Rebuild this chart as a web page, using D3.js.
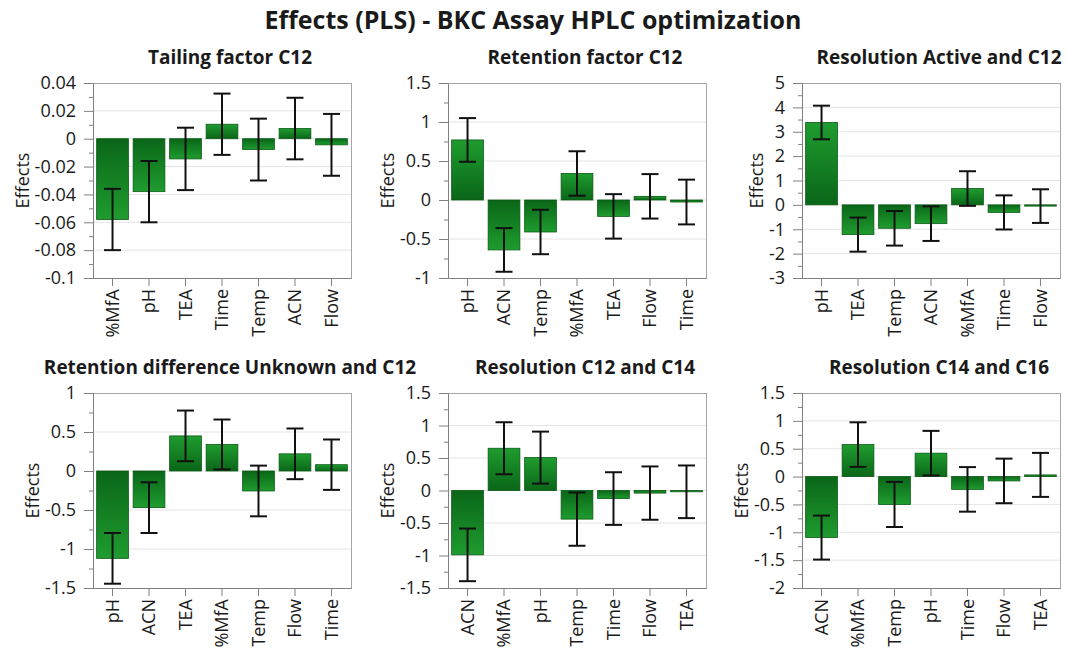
<!DOCTYPE html>
<html>
<head>
<meta charset="utf-8">
<script src="https://cdn.jsdelivr.net/npm/d3@7"></script>
<style>
    body{margin:0;background:#fff;}
    text{font-family:"Open Sans","DejaVu Sans",sans-serif;fill:#1a1a1a;}
    .title{font-size:25px;font-weight:bold;}
    .subtitle{font-size:19px;font-weight:bold;}
    .tick text{font-size:18px;}
    .ylabel{font-size:18px;}
    .grid line{stroke:#e4e4e4;}
    .axis path,.axis line{stroke:#808080;}
    .box{fill:none;stroke:#a6a6a6;}
    .err{stroke:#111;stroke-width:2;fill:none;}
</style>
</head>
<body>
<div id="chart"></div>
<script>
var mainTitle='Effects (PLS) - BKC Assay HPLC optimization';

var titles=['Tailing factor C12','Retention factor C12','Resolution Active and C12',
    'Retention difference Unknown and C12','Resolution C12 and C14','Resolution C14 and C16'];

var cats1=['%MfA','pH','TEA','Time','Temp','ACN','Flow'];
var vals1=[-0.058,-0.038,-0.0145,0.0104,-0.0078,0.0073,-0.0044];
var errs1=[0.022,0.022,0.0224,0.022,0.0222,0.0221,0.0222];

var cats2=['pH','ACN','Temp','%MfA','TEA','Flow','Time'];
var vals2=[0.77,-0.64,-0.41,0.34,-0.21,0.047,-0.026];
var errs2=[0.28,0.28,0.285,0.285,0.285,0.285,0.287];

var cats3=['pH','TEA','Temp','ACN','%MfA','Time','Flow'];
var vals3=[3.38,-1.22,-0.96,-0.77,0.67,-0.31,-0.05];
var errs3=[0.69,0.70,0.71,0.71,0.71,0.70,0.69];

var cats4=['pH','ACN','TEA','%MfA','Temp','Flow','Time'];
var vals4=[-1.12,-0.47,0.45,0.34,-0.256,0.22,0.081];
var errs4=[0.325,0.325,0.325,0.32,0.325,0.325,0.323];

var cats5=['ACN','%MfA','pH','Temp','Time','Flow','TEA'];
var vals5=[-0.99,0.65,0.506,-0.44,-0.124,-0.04,-0.02];
var errs5=[0.405,0.40,0.40,0.41,0.405,0.41,0.405];

var cats6=['ACN','%MfA','Temp','pH','Time','Flow','TEA'];
var vals6=[-1.095,0.574,-0.50,0.42,-0.23,-0.078,0.03];
var errs6=[0.395,0.40,0.405,0.40,0.40,0.40,0.395];

// y domains and tick steps (major), minor ticks at half step
var domains=[[-0.1,0.04],[-1,1.5],[-3,5],[-1.5,1],[-1.5,1.5],[-2,1.5]];
var steps=[0.02,0.5,1,0.5,0.5,0.5];

var panels=[
    {cats:cats1,vals:vals1,errs:errs1},
    {cats:cats2,vals:vals2,errs:errs2},
    {cats:cats3,vals:vals3,errs:errs3},
    {cats:cats4,vals:vals4,errs:errs4},
    {cats:cats5,vals:vals5,errs:errs5},
    {cats:cats6,vals:vals6,errs:errs6}
];

var svg_width=1066,
    svg_height=661,
    col_left=[93,448,802],
    row_top=[83,393],
    width=258,
    height=195;

var svg=d3.select('#chart')
    .append('svg')
    .attr('width',svg_width)
    .attr('height',svg_height);

// gradients: dark near zero, lighter at the end of the bar
var defs=svg.append('defs');
function grad(id,y1,y2){
    var g=defs.append('linearGradient').attr('id',id)
        .attr('x1',0).attr('x2',0).attr('y1',y1).attr('y2',y2);
    g.append('stop').attr('offset','0%').attr('stop-color','#0a6618');
    g.append('stop').attr('offset','100%').attr('stop-color','#1f9c2f');
}
grad('gpos',1,0);
grad('gneg',0,1);

svg.append('text')
    .attr('class','title')
    .attr('x',533)
    .attr('y',29)
    .attr('text-anchor','middle')
    .text(mainTitle);

function fmt(d){
    return (+d.toFixed(3))+'';
}

panels.forEach(function(p,i){
    var col=i%3,row=Math.floor(i/3);
    var dom=domains[i],step=steps[i];

    var chart=svg.append('g')
        .attr('transform','translate('+col_left[col]+','+row_top[row]+')');

    var data=p.cats.map(function(c,j){
        return {cat:c,value:p.vals[j],err:p.errs[j]};
    });

    var scale_x=d3.scaleBand()
        .domain(p.cats)
        .range([0,width])
        .paddingInner(0.13)
        .paddingOuter(0.1);

    var scale_y=d3.scaleLinear()
        .domain(dom)
        .range([height,0]);

    var n=Math.round((dom[1]-dom[0])/step);
    var major=d3.range(n+1).map(function(k){return +(dom[0]+k*step).toFixed(4);});
    var minor=d3.range(n).map(function(k){return +(dom[0]+(k+0.5)*step).toFixed(4);});

    //网格线
    chart.append('g')
        .attr('class','grid')
        .selectAll('line')
        .data(major.slice(1,-1))
        .enter()
        .append('line')
        .attr('x1',0)
        .attr('x2',width)
        .attr('y1',function(d){return scale_y(d);})
        .attr('y2',function(d){return scale_y(d);});

    //边框
    chart.append('rect')
        .attr('class','box')
        .attr('x',0.5)
        .attr('y',0.5)
        .attr('width',width)
        .attr('height',height);

    //柱子
    chart.selectAll('.bar')
        .data(data)
        .enter()
        .append('rect')
        .attr('class','bar')
        .attr('x',function(d){return scale_x(d.cat);})
        .attr('width',scale_x.bandwidth())
        .attr('y',function(d){return scale_y(Math.max(0,d.value));})
        .attr('height',function(d){return Math.max(1,Math.abs(scale_y(d.value)-scale_y(0)));})
        .attr('fill',function(d){return d.value>=0?'url(#gpos)':'url(#gneg)';})
        .attr('stroke','#0b5a14')
        .attr('stroke-width',0.8);

    //误差线
    var cap=8.5;
    var err=chart.selectAll('.errbar')
        .data(data)
        .enter()
        .append('g')
        .attr('class','err')
        .attr('transform',function(d){
            return 'translate('+(scale_x(d.cat)+scale_x.bandwidth()/2)+',0)';
        });
    err.append('line')
        .attr('x1',0).attr('x2',0)
        .attr('y1',function(d){return scale_y(d.value+d.err);})
        .attr('y2',function(d){return scale_y(d.value-d.err);});
    err.append('line')
        .attr('x1',-cap).attr('x2',cap)
        .attr('y1',function(d){return scale_y(d.value+d.err);})
        .attr('y2',function(d){return scale_y(d.value+d.err);});
    err.append('line')
        .attr('x1',-cap).attr('x2',cap)
        .attr('y1',function(d){return scale_y(d.value-d.err);})
        .attr('y2',function(d){return scale_y(d.value-d.err);});

    //y轴 minor ticks
    chart.append('g')
        .attr('class','axis')
        .call(d3.axisLeft(scale_y).tickValues(minor).tickSize(4).tickFormat(''))
        .select('.domain').remove();

    //y轴
    var yAxis=chart.append('g')
        .attr('class','axis')
        .call(d3.axisLeft(scale_y).tickValues(major).tickSize(9).tickSizeOuter(0).tickPadding(8).tickFormat(fmt));

    //x轴
    var xAxis=chart.append('g')
        .attr('class','axis')
        .attr('transform','translate(0,'+height+')')
        .call(d3.axisBottom(scale_x).tickSize(8).tickSizeOuter(0));

    xAxis.selectAll('text')
        .attr('transform','rotate(-90)')
        .attr('text-anchor','end')
        .attr('x',-11)
        .attr('y',0)
        .attr('dy','0.35em');

    var maxw=0;
    yAxis.selectAll('text').each(function(){
        maxw=Math.max(maxw,this.getBBox().width);
    });

    //y轴的注解
    chart.append('text')
        .attr('class','ylabel')
        .attr('transform','translate('+(-(maxw+23))+','+(height/2)+') rotate(-90)')
        .attr('text-anchor','middle')
        .text('Effects');

    //小标题
    chart.append('text')
        .attr('class','subtitle')
        .attr('x',width/2+8)
        .attr('y',-19)
        .attr('text-anchor','middle')
        .text(titles[i]);
});
</script>
</body>
</html>
